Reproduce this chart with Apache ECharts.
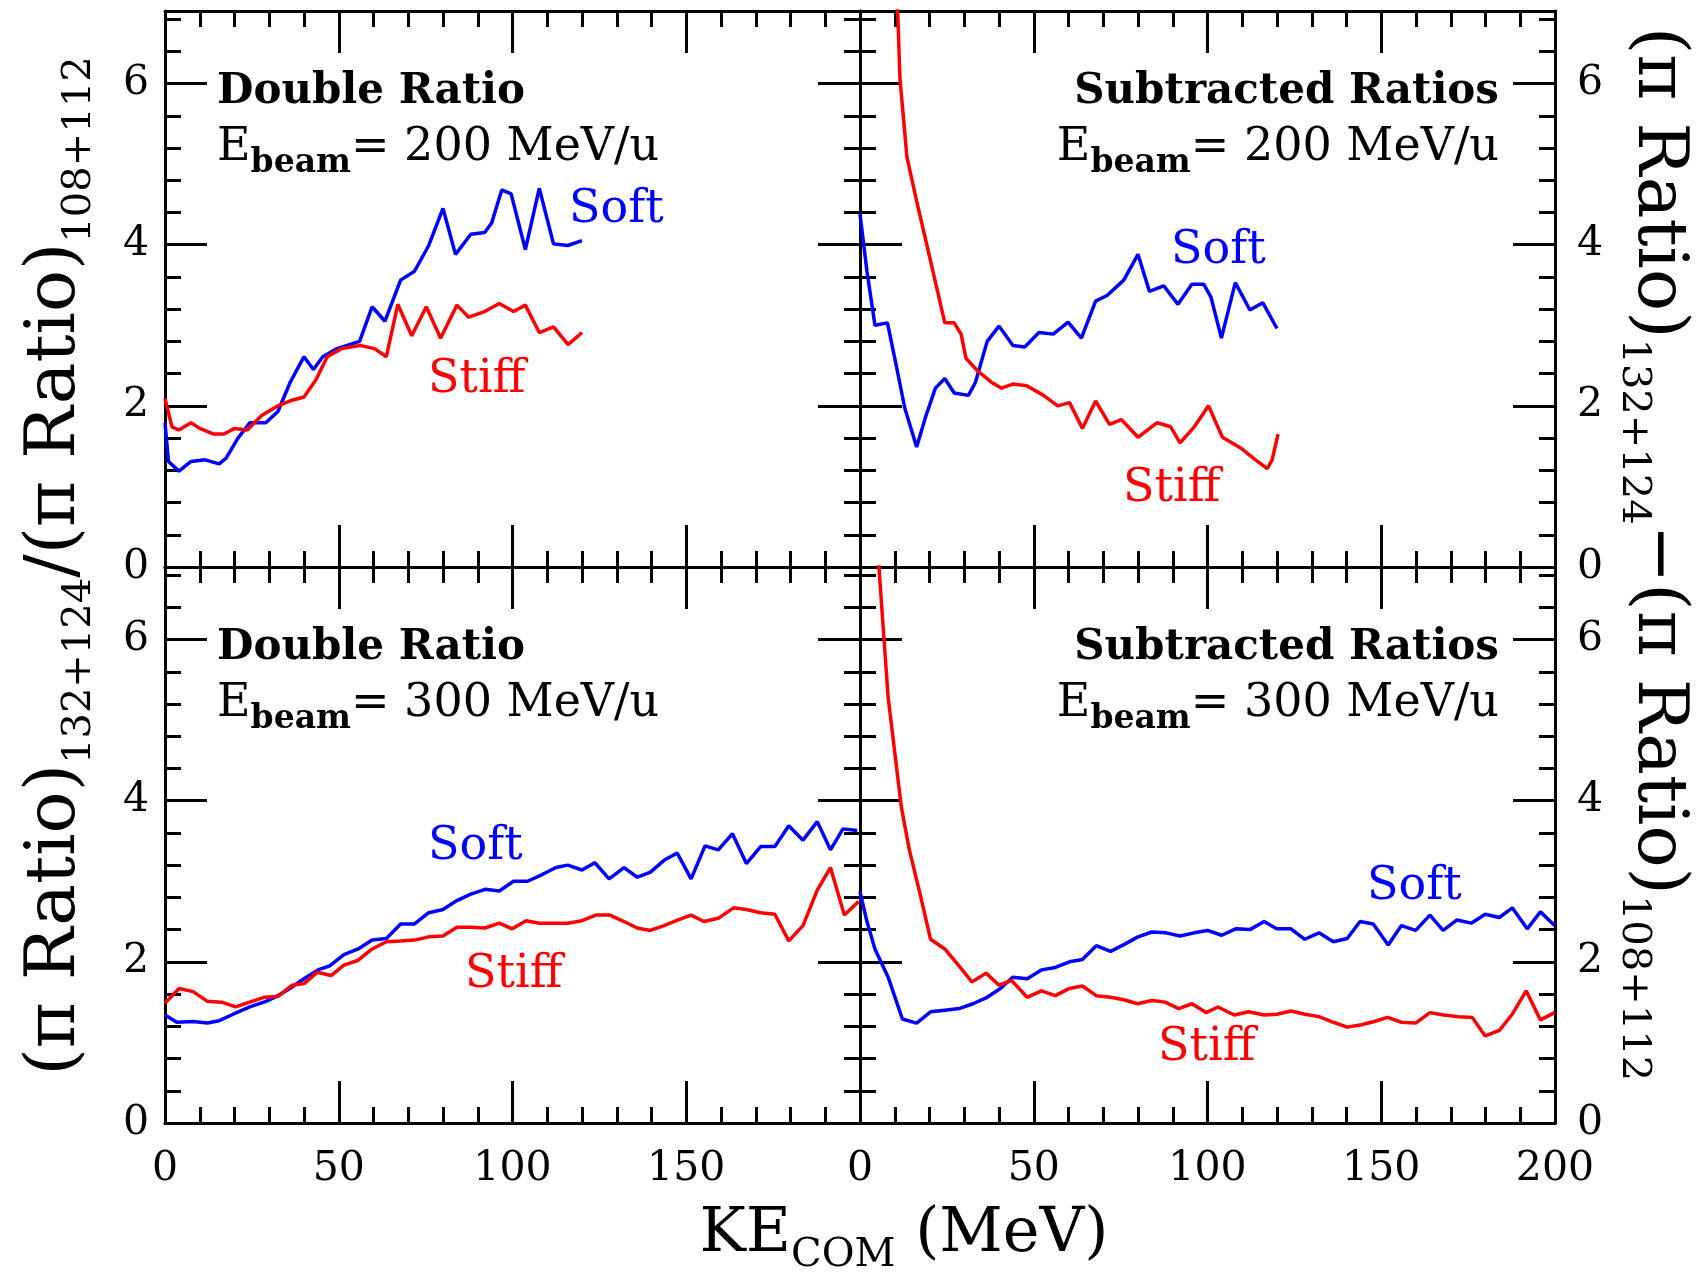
<!DOCTYPE html>
<html>
<head>
<meta charset="utf-8">
<title>Pion double ratios and subtracted ratios</title>
<script src="https://cdn.jsdelivr.net/npm/echarts@6/dist/echarts.min.js"></script>
<style>
  html, body { margin: 0; padding: 0; background: #fff; }
  #chart { width: 1703px; height: 1274px; }
</style>
</head>
<body>
<div id="chart"></div>
<script>
// axis ticks that carry a label
const keTicks = [0, 50, 100, 150, 200];
const ratioTicks = [0, 2, 4, 6];

// [KE_COM (MeV), ratio]
// Ebeam = 200 MeV/u, double ratio
const dr200Soft = [[0,1.79],[1,1.31],[4,1.19],[7.5,1.31],[11.5,1.33],[15.6,1.28],[17.6,1.35],[21,1.6],[24.4,1.79],[29,1.79],[32.5,1.93],[36,2.29],[40,2.61],[42.7,2.45],[45.4,2.61],[49.5,2.71],[56,2.8],[59.6,3.23],[63.3,3.05],[67.8,3.56],[71.8,3.67],[75.9,3.99],[80,4.45],[83.6,3.88],[88,4.13],[92,4.15],[94,4.27],[96.9,4.68],[99.6,4.63],[103.7,3.94],[107.7,4.70],[111.8,4.01],[115.9,3.99],[120,4.05]];
const dr200Stiff = [[0,2.09],[2,1.74],[4,1.70],[7.5,1.79],[10,1.72],[14,1.65],[17,1.65],[20,1.72],[23.7,1.70],[27.8,1.88],[32.5,2.0],[36.6,2.07],[40,2.11],[43.4,2.32],[46.7,2.61],[50.8,2.71],[56,2.75],[60.3,2.71],[63.7,2.61],[67,3.26],[71,2.87],[75.2,3.23],[79.3,2.84],[84,3.25],[87.4,3.10],[92,3.17],[96.2,3.27],[100.3,3.17],[103.7,3.25],[107.7,2.91],[111.8,2.98],[116,2.76],[120,2.91]];

// Ebeam = 200 MeV/u, subtracted ratios
const sr200Soft = [[0,4.38],[2,3.67],[4.3,3.0],[7.9,3.03],[10.2,2.55],[12.9,1.97],[16.3,1.49],[19,1.88],[21.7,2.22],[24.4,2.34],[27.1,2.16],[31.2,2.13],[33.2,2.29],[36.6,2.80],[40,2.99],[44,2.75],[47.4,2.73],[51.5,2.91],[55.6,2.89],[59.9,3.04],[63.7,2.84],[67.8,3.30],[71.1,3.37],[75.9,3.56],[80,3.88],[83.3,3.42],[87.4,3.49],[91.5,3.26],[95.5,3.51],[98.9,3.51],[101,3.35],[104,2.84],[108,3.53],[112.2,3.19],[115.9,3.28],[120,2.96]];
const sr200Stiff = [[10.8,6.95],[11.5,6.06],[13.5,5.09],[16.3,4.54],[18.3,4.17],[21,3.67],[24.4,3.03],[27.1,3.03],[29.1,2.89],[30.5,2.59],[33.9,2.43],[37.9,2.29],[40.7,2.22],[44,2.27],[48,2.25],[52.8,2.13],[56.9,2.0],[60.3,2.04],[64,1.72],[67.8,2.06],[71.8,1.77],[75.2,1.83],[80,1.61],[85.4,1.79],[89.4,1.74],[92.1,1.54],[96.2,1.74],[100.3,2.0],[104.3,1.61],[109.8,1.47],[113.8,1.33],[117.2,1.22],[118.6,1.33],[120.3,1.65]];

// Ebeam = 300 MeV/u, double ratio
const dr300Soft = [[0,1.34],[3.4,1.25],[8.1,1.26],[12.2,1.24],[15.6,1.27],[19.6,1.35],[24.4,1.44],[29.1,1.51],[32.5,1.58],[35.9,1.67],[40,1.79],[44,1.90],[47.4,1.95],[51.5,2.09],[55.6,2.16],[59.6,2.27],[63.7,2.29],[67.8,2.47],[71.8,2.47],[75.9,2.61],[80,2.65],[84,2.76],[88,2.84],[92.1,2.90],[96.2,2.88],[100.3,3.0],[104.3,3.0],[108.4,3.08],[112.5,3.17],[115.9,3.20],[120,3.14],[123.7,3.23],[127.8,3.03],[132.1,3.17],[135.9,3.05],[139.6,3.11],[143.6,3.26],[147.4,3.35],[151.4,3.03],[155.4,3.44],[159.2,3.39],[163.3,3.59],[167.3,3.22],[171.4,3.43],[175.5,3.43],[179.5,3.69],[183.6,3.51],[187.7,3.74],[191.5,3.39],[195.1,3.65],[199.2,3.63]];
const dr300Stiff = [[0,1.49],[4.1,1.67],[8.1,1.63],[12.2,1.51],[16.3,1.50],[20.3,1.44],[24.4,1.50],[28.5,1.56],[32.5,1.57],[36.6,1.71],[40,1.73],[43.8,1.87],[47.8,1.83],[51.5,1.96],[55.6,2.02],[59.6,2.16],[63.7,2.25],[67.8,2.26],[71.8,2.27],[75.9,2.31],[80,2.32],[84,2.43],[88,2.43],[92.1,2.42],[96.2,2.48],[99.9,2.41],[103.9,2.51],[107.7,2.48],[111.8,2.48],[115.9,2.48],[120,2.51],[124,2.58],[128,2.58],[132.1,2.50],[135.9,2.42],[139.6,2.39],[143.6,2.45],[147.7,2.52],[151.4,2.58],[155.1,2.50],[159.2,2.54],[163.6,2.67],[167.3,2.65],[171.4,2.61],[175.5,2.59],[179.5,2.26],[183.6,2.45],[187.7,2.89],[191.5,3.17],[195.5,2.58],[199.6,2.75]];

// Ebeam = 300 MeV/u, subtracted ratios
const sr300Soft = [[0,2.87],[2,2.50],[4.3,2.16],[8.1,1.81],[12.2,1.29],[16.3,1.24],[20.3,1.38],[24.4,1.40],[28.5,1.42],[32.5,1.48],[36.6,1.56],[40.4,1.67],[44,1.81],[48.1,1.79],[52.2,1.90],[56.2,1.93],[60.3,2.0],[64,2.03],[68,2.20],[72.1,2.13],[76.2,2.22],[80,2.31],[84,2.37],[88.1,2.36],[92.1,2.32],[96.2,2.36],[100,2.39],[104.1,2.33],[108.1,2.41],[112.2,2.40],[116.3,2.50],[119.9,2.41],[124,2.41],[128,2.28],[132.1,2.36],[136.2,2.25],[140.2,2.29],[143.9,2.50],[147.7,2.47],[152,2.21],[155.8,2.45],[159.9,2.39],[164,2.58],[167.8,2.39],[171.8,2.52],[175.9,2.48],[179.9,2.59],[184,2.55],[187.7,2.67],[192,2.41],[195.8,2.62],[199.9,2.45]];
const sr300Stiff = [[4.6,6.95],[5.4,6.93],[8.1,5.28],[11.9,3.92],[14.2,3.39],[17.3,2.84],[20.3,2.28],[24.4,2.16],[28.5,1.95],[32.2,1.75],[36.3,1.86],[40,1.71],[43.6,1.77],[48.1,1.56],[52.2,1.64],[56.2,1.58],[60.3,1.67],[64,1.70],[68,1.58],[72.1,1.56],[75.9,1.53],[79.9,1.48],[84,1.52],[87.8,1.50],[91.7,1.42],[95.5,1.48],[99.6,1.37],[103,1.44],[107.7,1.34],[111.8,1.38],[116.3,1.34],[119.9,1.35],[124,1.39],[128,1.35],[132.1,1.32],[136.2,1.25],[140.2,1.19],[144.3,1.22],[148,1.26],[151.8,1.31],[155.8,1.25],[159.9,1.24],[164,1.37],[168,1.34],[172.1,1.32],[176.2,1.31],[179.9,1.08],[184,1.15],[187.7,1.35],[191.7,1.64],[195.8,1.28],[199.9,1.37]];

const SOFT = '#0000ff';
const STIFF = '#ff0000';
const serif = '"DejaVu Serif", serif';

const grids = [
  { left: 165, top: 11, width: 695, height: 556 },
  { left: 860, top: 11, width: 695, height: 556 },
  { left: 165, top: 567, width: 695, height: 556 },
  { left: 860, top: 567, width: 695, height: 556 }
];

const frameLine = { show: true, onZero: false, lineStyle: { color: '#000', width: 3 } };
const majorTick = { show: true, inside: true, length: 42, lineStyle: { color: '#000', width: 3 } };
const minorTick = { show: true, splitNumber: 5, length: 16, lineStyle: { color: '#000', width: 3 } };

function labelStyle(show, extra) {
  return Object.assign({ show: show, fontFamily: serif, fontSize: 41, color: '#000' }, extra);
}

let xAxes = [];
let yAxes = [];
for (let i = 0; i < 4; i++) {
  let isBottom = i >= 2;
  let isLeft = i % 2 == 0;
  // bottom and top x axes
  xAxes.push({
    type: 'value', gridIndex: i, position: 'bottom', min: 0, max: 200, interval: 50,
    axisLine: frameLine, axisTick: majorTick, minorTick: minorTick, splitLine: { show: false },
    axisLabel: labelStyle(isBottom, {
      margin: 26,
      formatter: v => (keTicks.includes(v) && !(isLeft && v == 200)) ? String(v) : ''
    })
  });
  xAxes.push({
    type: 'value', gridIndex: i, position: 'top', min: 0, max: 200, interval: 50,
    axisLine: frameLine, axisTick: majorTick, minorTick: minorTick, splitLine: { show: false },
    axisLabel: { show: false }
  });
  // left and right y axes
  yAxes.push({
    type: 'value', gridIndex: i, position: 'left', min: 0, max: 6.9, interval: 2,
    axisLine: frameLine, axisTick: majorTick, minorTick: minorTick, splitLine: { show: false },
    axisLabel: labelStyle(isLeft, {
      margin: 16, padding: [16, 0, 0, 0],
      formatter: v => ratioTicks.includes(v) ? String(v) : ''
    })
  });
  yAxes.push({
    type: 'value', gridIndex: i, position: 'right', min: 0, max: 6.9, interval: 2,
    axisLine: frameLine, axisTick: majorTick, minorTick: minorTick, splitLine: { show: false },
    axisLabel: labelStyle(!isLeft, {
      margin: 22, padding: [16, 0, 0, 0],
      formatter: v => ratioTicks.includes(v) ? String(v) : ''
    })
  });
}

function curve(name, data, color, gi) {
  return {
    name: name, type: 'line', data: data,
    xAxisIndex: 2 * gi, yAxisIndex: 2 * gi,
    symbol: 'none', showSymbol: false, clip: true, silent: true,
    lineStyle: { color: color, width: 3.5 }, itemStyle: { color: color }
  };
}

const series = [
  curve('Soft', dr200Soft, SOFT, 0),
  curve('Stiff', dr200Stiff, STIFF, 0),
  curve('Soft', sr200Soft, SOFT, 1),
  curve('Stiff', sr200Stiff, STIFF, 1),
  curve('Soft', dr300Soft, SOFT, 2),
  curve('Stiff', dr300Stiff, STIFF, 2),
  curve('Soft', sr300Soft, SOFT, 3),
  curve('Stiff', sr300Stiff, STIFF, 3)
];

// text helpers
function txt(x, y, text, rich, align, rotation) {
  return {
    type: 'text', x: x, y: y, rotation: rotation || 0, silent: true,
    style: {
      text: text, rich: rich, fill: '#000',
      align: align || 'left', textAlign: align || 'left',
      verticalAlign: 'middle', textVerticalAlign: 'middle'
    }
  };
}

const panelRich = {
  b: { fontFamily: serif, fontSize: 42, fontWeight: 'bold', fill: '#000' },
  m: { fontFamily: serif, fontSize: 46, fill: '#000' },
  s: { fontFamily: serif, fontSize: 33, fontWeight: 'bold', fill: '#000', padding: [30, 0, 0, 0] }
};
const softRich = { m: { fontFamily: serif, fontSize: 46, fill: SOFT, color: SOFT } };
const stiffRich = { m: { fontFamily: serif, fontSize: 46, fill: STIFF, color: STIFF } };
const titleRich = {
  m: { fontFamily: serif, fontSize: 70, fill: '#000' },
  s: { fontFamily: serif, fontSize: 40, fill: '#000', padding: [48, 0, 0, 0] }
};
const xTitleRich = {
  m: { fontFamily: serif, fontSize: 62, fill: '#000' },
  s: { fontFamily: serif, fontSize: 40, fill: '#000', padding: [42, 0, 0, 0] }
};

const graphics = [
  // top-left
  txt(217, 92, '{b|Double Ratio}', panelRich),
  txt(217, 148, '{m|E}{s|beam}{m|= 200 MeV/u}', panelRich),
  txt(569, 210, '{m|Soft}', softRich),
  txt(428, 380, '{m|Stiff}', stiffRich),
  // top-right
  txt(1499, 92, '{b|Subtracted Ratios}', panelRich, 'right'),
  txt(1499, 148, '{m|E}{s|beam}{m|= 200 MeV/u}', panelRich, 'right'),
  txt(1171, 251, '{m|Soft}', softRich),
  txt(1123, 489, '{m|Stiff}', stiffRich),
  // bottom-left
  txt(217, 648, '{b|Double Ratio}', panelRich),
  txt(217, 704, '{m|E}{s|beam}{m|= 300 MeV/u}', panelRich),
  txt(428, 847, '{m|Soft}', softRich),
  txt(465, 975, '{m|Stiff}', stiffRich),
  // bottom-right
  txt(1499, 648, '{b|Subtracted Ratios}', panelRich, 'right'),
  txt(1499, 704, '{m|E}{s|beam}{m|= 300 MeV/u}', panelRich, 'right'),
  txt(1367, 887, '{m|Soft}', softRich),
  txt(1158, 1048, '{m|Stiff}', stiffRich),
  // axis titles
  txt(56, 566, '{m|(π Ratio)}{s|132+124}{m|/(π Ratio)}{s|108+112}', titleRich, 'center', Math.PI / 2),
  txt(1657, 554, '{m|(π Ratio)}{s|132+124}{m|−(π Ratio)}{s|108+112}', titleRich, 'center', -Math.PI / 2),
  txt(904, 1235, '{m|KE}{s|COM}{m| (MeV)}', xTitleRich, 'center')
];

const chart = echarts.init(document.getElementById('chart'), null, { renderer: 'canvas' });
chart.setOption({
  backgroundColor: '#fff',
  animation: false,
  grid: grids.map(g => Object.assign({ containLabel: false, outerBoundsMode: 'none' }, g)),
  xAxis: xAxes,
  yAxis: yAxes,
  series: series,
  graphic: graphics
});
</script>
</body>
</html>
